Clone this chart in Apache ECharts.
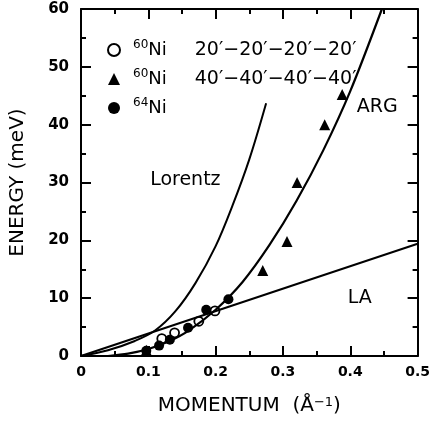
<!DOCTYPE html>
<html><head><meta charset="utf-8">
<script src="https://cdn.jsdelivr.net/npm/echarts@6/dist/echarts.min.js"></script>
<style>html,body{margin:0;padding:0;background:#fff}#c{width:433px;height:421px}</style>
</head><body><div id="c"></div>
<script>
// x: momentum (1/Å), y: energy (meV)
const xTicks = [0, 0.1, 0.2, 0.3, 0.4, 0.5];
const yTicks = [0, 10, 20, 30, 40, 50, 60];
const laCurve = [[0, 0], [0.5, 19.4]];
const lorentzCurve = [[0, 0], [0.04, 1.0], [0.08, 2.6], [0.11, 4.4], [0.14, 7.7], [0.17, 12.6], [0.2, 19.0], [0.225, 26.0], [0.25, 34.0], [0.275, 43.7]];
const argCurve = [[0.04, 0], [0.07, 0.4], [0.1, 1.2], [0.13, 2.5], [0.16, 4.4], [0.2, 8.0], [0.24, 12.8], [0.28, 19.2], [0.32, 26.8], [0.36, 35.6], [0.4, 45.8], [0.447, 60]];
const ni60Fine = [[0.12, 3.0], [0.139, 4.0], [0.175, 6.0], [0.199, 7.8]];
const ni60Coarse = [[0.097, 1.0], [0.27, 14.8], [0.306, 19.8], [0.321, 30.0], [0.362, 40.0], [0.388, 45.2]];
const ni64 = [[0.097, 0.9], [0.116, 1.8], [0.132, 2.8], [0.159, 4.9], [0.186, 8.0], [0.219, 9.8]];
const curveLabels = [{ name: 'Lorentz', coord: [0.155, 30.4] }, { name: 'ARG', coord: [0.44, 43.0] }, { name: 'LA', coord: [0.414, 10.1] }];
const legendText = {
  'open': '{sup|60}{ni|Ni}{sp|}{t|20′−20′−20′−20′}',
  'tri': '{sup|60}{ni|Ni}{sp|}{t|40′−40′−40′−40′}',
  'filled': '{sup|64}{ni|Ni}'
};

const FONT = 'DejaVu Sans';
const chart = echarts.init(document.getElementById('c'));
function axisCommon(extra) {
  return Object.assign({
    axisLine: { show: true, onZero: false, lineStyle: { color: '#000', width: 2 } },
    axisTick: { show: true, inside: true, length: 10, lineStyle: { color: '#000', width: 2 } },
    minorTick: { show: true, splitNumber: 2, length: 5, lineStyle: { color: '#000', width: 2 } },
    splitLine: { show: false }
  }, extra);
}
const labelStyle = { color: '#000', fontFamily: FONT, fontWeight: 'bold', fontSize: 14 };
chart.setOption({
  animation: false,
  backgroundColor: '#fff',
  grid: { left: 79, right: 5, top: 9, bottom: 63 },
  xAxis: [
    axisCommon({ type: 'value', min: 0, max: 0.5, interval: 0.1, position: 'bottom',
      axisLabel: Object.assign({ margin: 9, formatter: v => (v === 0 ? '0' : String(+v.toFixed(1))) }, labelStyle),
      name: 'MOMENTUM  (Å{sup|−1})', nameLocation: 'middle', nameGap: 40,
      nameTextStyle: { color: '#000', fontFamily: FONT, fontSize: 20, rich: { sup: { fontSize: 13, verticalAlign: 'top', fontFamily: FONT } } } }),
    axisCommon({ type: 'value', min: 0, max: 0.5, interval: 0.1, position: 'top', axisLabel: { show: false } })
  ],
  yAxis: [
    axisCommon({ type: 'value', min: 0, max: 60, interval: 10, position: 'left',
      axisLabel: Object.assign({ margin: 12 }, labelStyle, { fontSize: 15 }),
      name: 'ENERGY (meV)', nameLocation: 'middle', nameGap: 53,
      nameTextStyle: { color: '#000', fontFamily: FONT, fontSize: 20 } }),
    axisCommon({ type: 'value', min: 0, max: 60, interval: 10, position: 'right', axisLabel: { show: false } })
  ],
  legend: {
    orient: 'vertical', left: 102, top: 34, itemWidth: 12, itemHeight: 12, itemGap: 8.5,
    data: ['open', 'tri', 'filled'],
    formatter: n => legendText[n],
    textStyle: {
      color: '#000', fontFamily: FONT, fontSize: 19, padding: [0, 0, 0, 8],
      rich: {
        sup: { fontSize: 12, fontFamily: FONT, verticalAlign: 'top', lineHeight: 22, color: '#000' },
        ni: { fontSize: 18, fontFamily: FONT, lineHeight: 22, color: '#000' },
        sp: { width: 28, lineHeight: 22 },
        t: { fontSize: 19, fontFamily: FONT, lineHeight: 22, color: '#000' }
      }
    }
  },
  series: [
    { name: 'la', type: 'line', data: laCurve, showSymbol: false, lineStyle: { color: '#000', width: 2 }, silent: true },
    { name: 'lorentz', type: 'line', data: lorentzCurve, smooth: 0.35, showSymbol: false, lineStyle: { color: '#000', width: 2 } },
    { name: 'arg', type: 'line', data: argCurve, smooth: 0.3, showSymbol: false, lineStyle: { color: '#000', width: 2.2 },
      markPoint: { symbol: 'circle', symbolSize: 0, silent: true,
        label: { show: true, position: 'inside', formatter: p => p.name, color: '#000', fontFamily: FONT, fontSize: 19 },
        data: curveLabels } },
    { name: 'open', type: 'scatter', data: ni60Fine, symbol: 'circle', symbolSize: 9, itemStyle: { color: '#fff', borderColor: '#000', borderWidth: 1.8, opacity: 1 } },
    { name: 'tri', type: 'scatter', data: ni60Coarse, symbol: 'triangle', symbolSize: 11, itemStyle: { color: '#000', opacity: 1 } },
    { name: 'filled', type: 'scatter', data: ni64, symbol: 'circle', symbolSize: 10, itemStyle: { color: '#000', opacity: 1 } }
  ]
});
</script></body></html>
